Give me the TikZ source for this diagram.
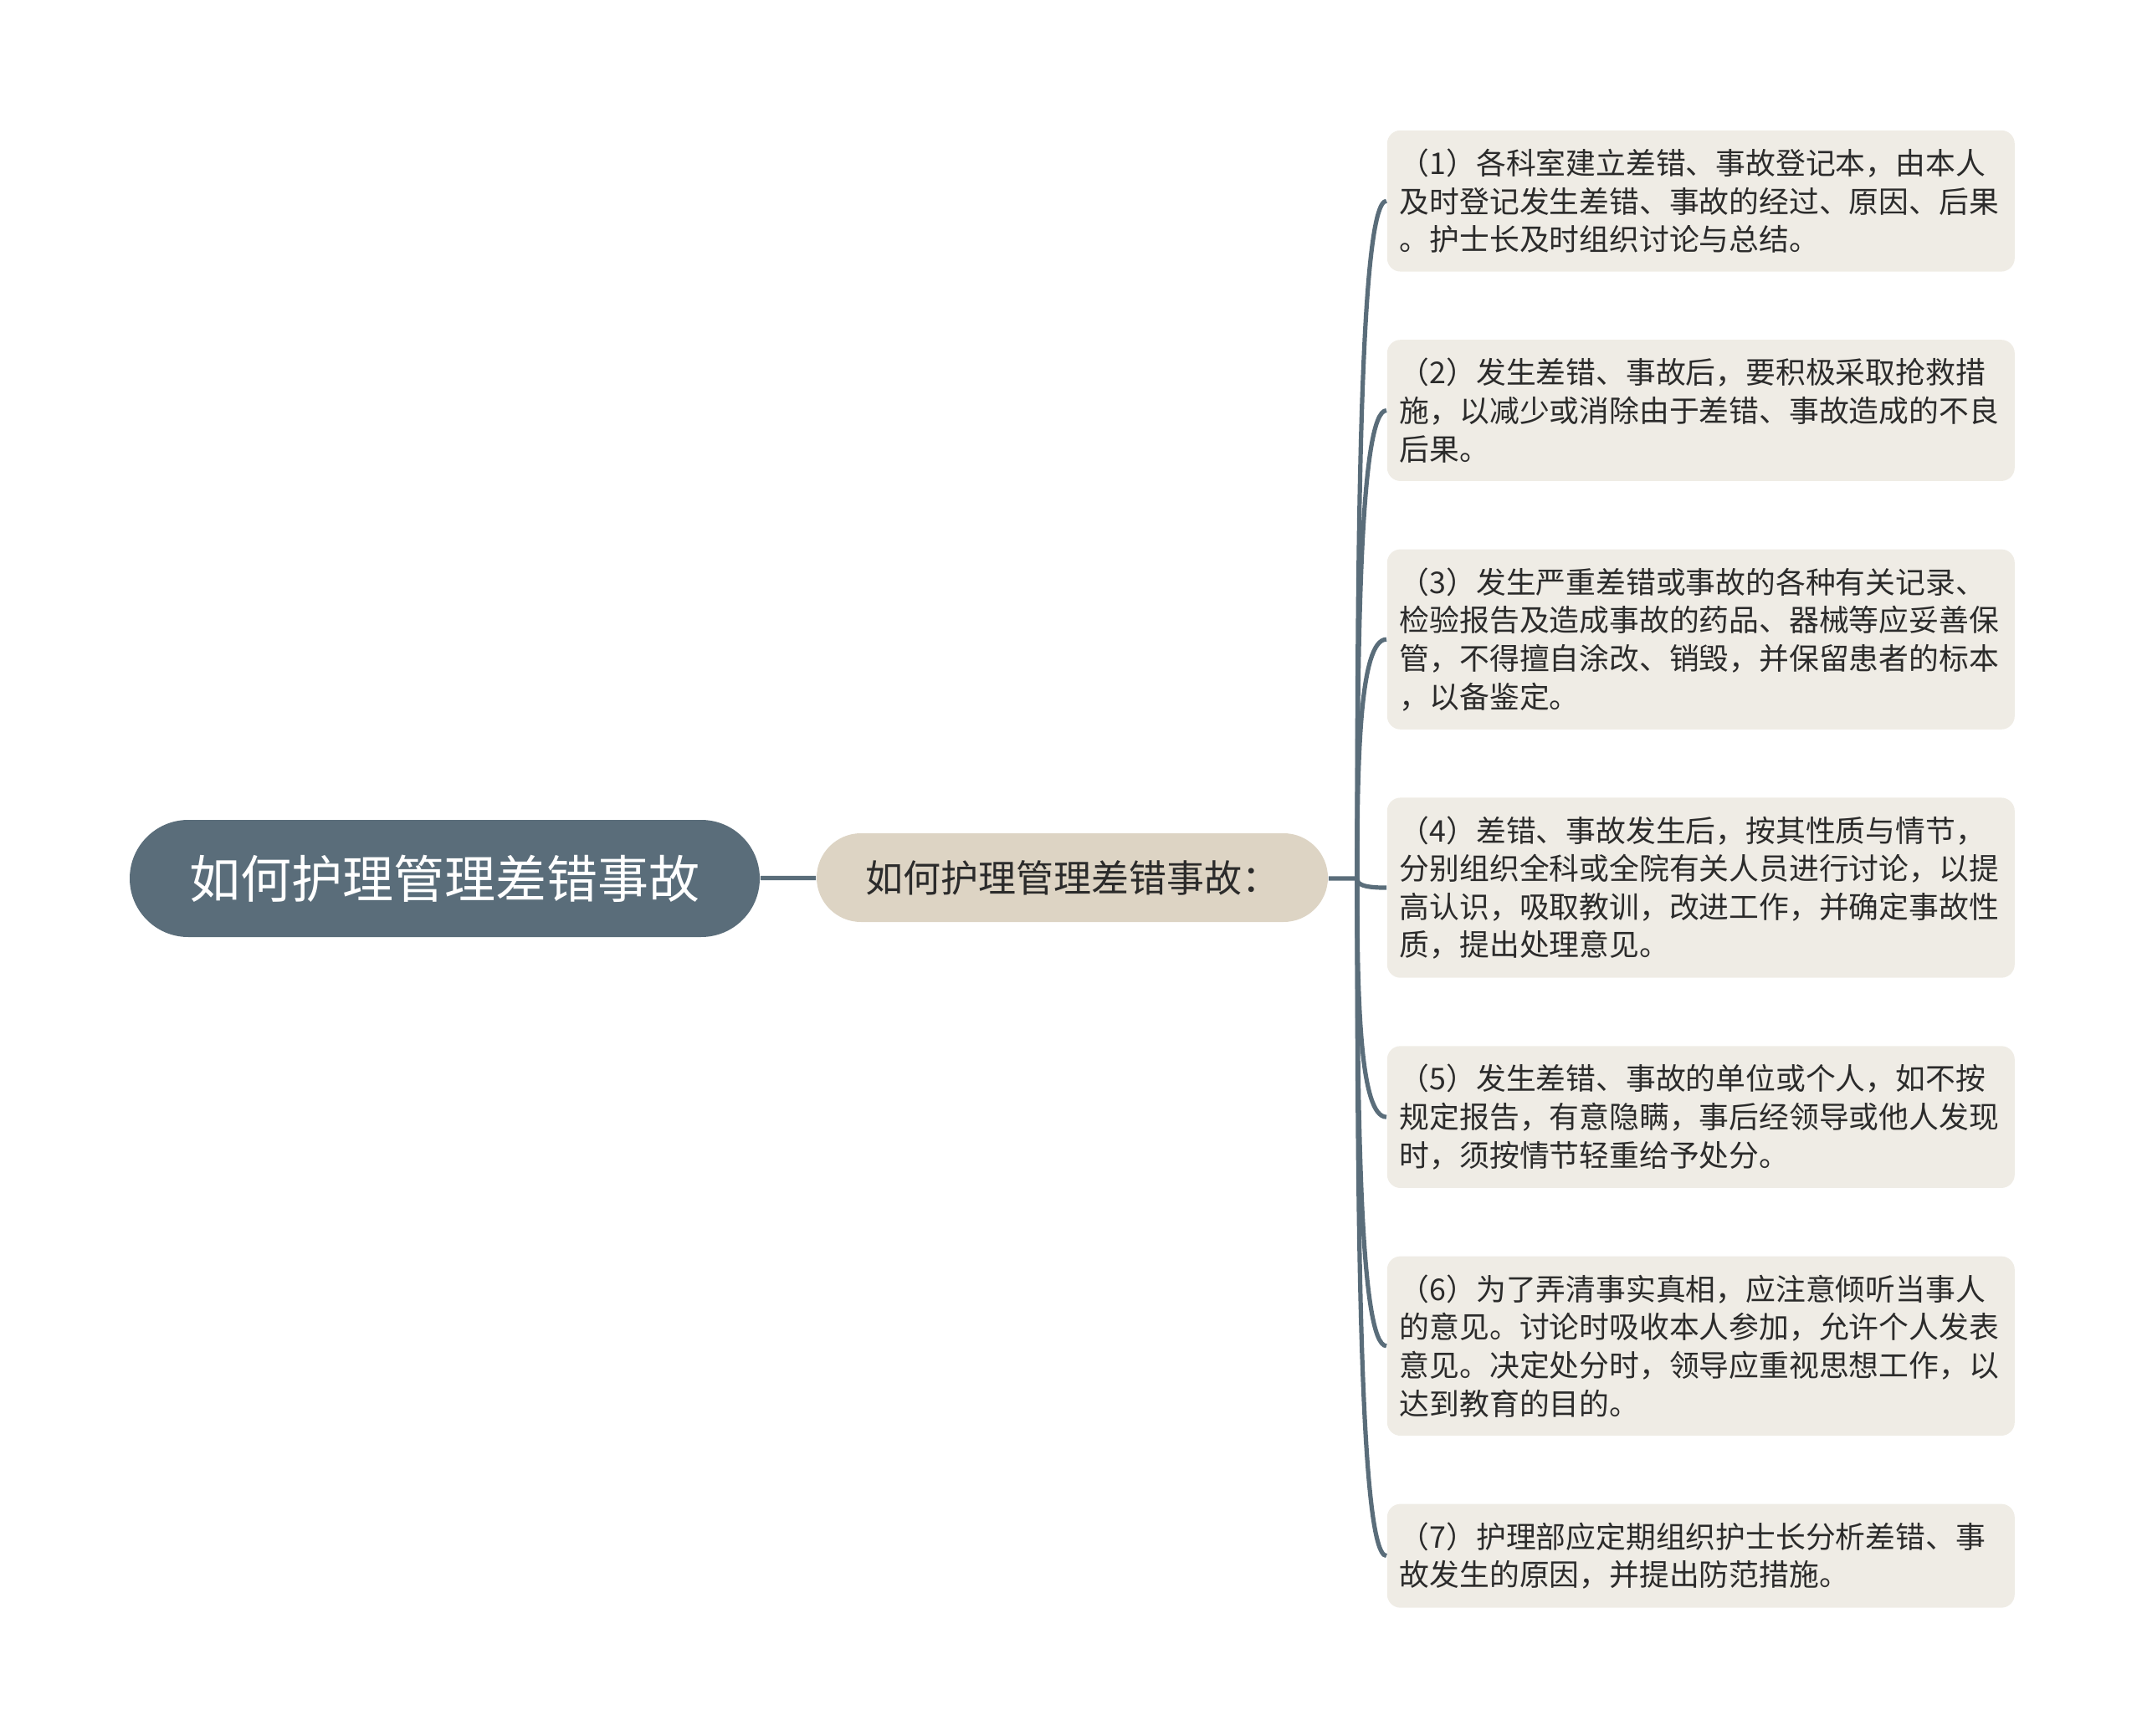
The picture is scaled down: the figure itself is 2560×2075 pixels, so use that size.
\documentclass[tikz,border=0pt]{standalone}
\usepackage{fontspec}
\setmainfont{Noto Sans CJK SC}
\usetikzlibrary{positioning,calc}

\definecolor{slate}{HTML}{5A6D7A}
\definecolor{sand}{HTML}{DDD4C4}
\definecolor{paper}{HTML}{EFECE5}
\definecolor{ink}{HTML}{2B2B2B}

\begin{document}
\begin{tikzpicture}[x=0.25pt, y=-0.25pt,
		topic/.style={fill=slate, text=white, rounded corners=17.5pt, minimum width=188.25pt, minimum height=35pt, inner sep=0pt, font=\fontsize{15.25}{18}\selectfont},
		subtopic/.style={fill=sand, text=ink, rounded corners=13.25pt, minimum width=152.75pt, minimum height=26.5pt, inner sep=0pt, font=\fontsize{11.25}{13.5}\selectfont},
		leaf/.style={fill=paper, text=ink, rounded corners=4pt, text width=180pt, align=left, inner xsep=3.75pt, inner ysep=5.5pt, font=\fontsize{8.95}{11.4}\selectfont},
		branch/.style={slate, line width=1.3pt}]
		\useasboundingbox (0,0) rectangle (2560,2075);
		\coordinate (junction) at (1622,1050);

		% draw the two central nodes
		\node [topic] (root) at (531.5,1050) {如何护理管理差错事故};
		\node [subtopic] (sub) at (1281.5,1049) {如何护理管理差错事故：};

		% draw the leaves, one under the other
		\node [leaf, anchor=north west] (l1) at (1657,155) {（1）各科室建立差错、事故登记本，由本人\\及时登记发生差错、事故的经过、原因、后果\\。护士长及时组织讨论与总结。};
		\node [leaf, below=20pt of l1] (l2) {（2）发生差错、事故后，要积极采取抢救措\\施，以减少或消除由于差错、事故造成的不良\\后果。};
		\node [leaf, below=20pt of l2] (l3) {（3）发生严重差错或事故的各种有关记录、\\检验报告及造成事故的药品、器械等应妥善保\\管，不得擅自涂改、销毁，并保留患者的标本\\，以备鉴定。};
		\node [leaf, below=20pt of l3] (l4) {（4）差错、事故发生后，按其性质与情节，\\分别组织全科或全院有关人员进行讨论，以提\\高认识，吸取教训，改进工作，并确定事故性\\质，提出处理意见。};
		\node [leaf, below=20pt of l4] (l5) {（5）发生差错、事故的单位或个人，如不按\\规定报告，有意隐瞒，事后经领导或他人发现\\时，须按情节轻重给予处分。};
		\node [leaf, below=20pt of l5] (l6) {（6）为了弄清事实真相，应注意倾听当事人\\的意见。讨论时吸收本人参加，允许个人发表\\意见。决定处分时，领导应重视思想工作，以\\达到教育的目的。};
		\node [leaf, below=20pt of l6] (l7) {（7）护理部应定期组织护士长分析差错、事\\故发生的原因，并提出防范措施。};

		% draw connectors
		\draw [branch] (root) -- (sub);
		\draw [branch] (sub) -- (junction);
		\foreach \n in {l1,l2,l3,l4,l5,l6,l7}
			\draw [branch] (junction) .. controls ($(junction)!0.5!(junction |- \n.west)$) and ($(junction |- \n.west)+(3,0)$) .. (\n.west);
\end{tikzpicture}
\end{document}
